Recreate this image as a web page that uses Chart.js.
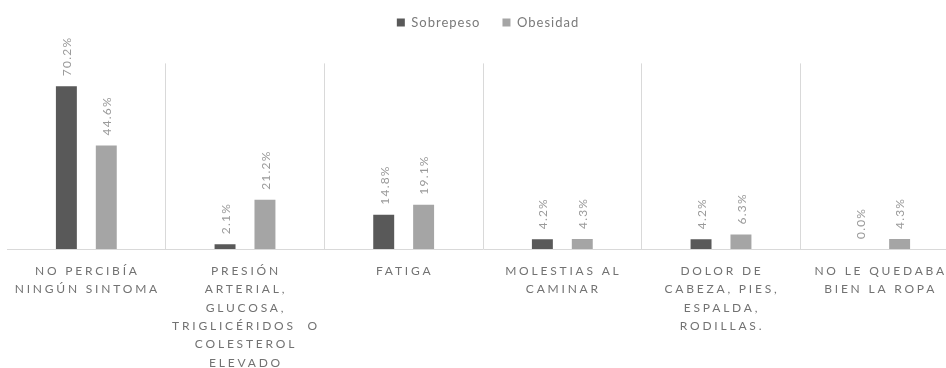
<!DOCTYPE html>
<html>
<head>
<meta charset="utf-8">
<script src="https://cdn.jsdelivr.net/npm/chart.js@4"></script>
<style>
  html, body { margin: 0; padding: 0; background: #fff; overflow: hidden; }
  canvas { display: block; }
</style>
</head>
<body>
<canvas id="symptomChart" width="959" height="368"></canvas>
<script>
const categories = [
  ['NO PERCIBÍA', 'NINGÚN SINTOMA'],
  ['PRESIÓN', 'ARTERIAL,', 'GLUCOSA,', 'TRIGLICÉRIDOS  O', 'COLESTEROL', 'ELEVADO'],
  ['FATIGA'],
  ['MOLESTIAS AL', 'CAMINAR'],
  ['DOLOR DE', 'CABEZA, PIES,', 'ESPALDA,', 'RODILLAS.'],
  ['NO LE QUEDABA', 'BIEN LA ROPA']
];
const sobrepeso = [70.2, 2.1, 14.8, 4.2, 4.2, 0.0];
const obesidad = [44.6, 21.2, 19.1, 4.3, 6.3, 4.3];

Chart.defaults.font.family = 'Lato';

// run a drawing method with canvas letter spacing (and an optional shift)
function withSpacing(target, method, spacing, dx) {
  const original = target[method];
  target[method] = function () {
    const ctx = this.ctx;
    ctx.save();
    ctx.letterSpacing = spacing;
    if (dx) ctx.translate(dx, 0);
    const result = original.apply(this, arguments);
    ctx.restore();
    return result;
  };
}

const letterSpacing = {
  id: 'letterSpacing',
  afterInit(chart) {
    withSpacing(chart.legend, 'fit', '1px');
    withSpacing(chart.legend, 'draw', '1px', 5);
  },
  beforeDraw(chart) {
    const x = chart.scales.x;
    if (!x._spaced) {
      withSpacing(x, 'drawLabels', '2.8px', 1);
      x._spaced = true;
    }
  }
};

// percentage labels standing vertically above each bar
const barValueLabels = {
  id: 'barValueLabels',
  afterDatasetsDraw(chart) {
    const ctx = chart.ctx;
    ctx.save();
    ctx.font = '12px Lato';
    ctx.fillStyle = '#9a9a9a';
    ctx.letterSpacing = '1.2px';
    ctx.textAlign = 'left';
    ctx.textBaseline = 'middle';
    chart.data.datasets.forEach((ds, i) => {
      chart.getDatasetMeta(i).data.forEach((bar, j) => {
        ctx.save();
        ctx.translate(bar.x + 1, bar.y - 10);
        ctx.rotate(-Math.PI / 2);
        ctx.fillText(ds.data[j].toFixed(1) + '%', 0, 0);
        ctx.restore();
      });
    });
    ctx.restore();
  }
};

new Chart(document.getElementById('symptomChart'), {
  type: 'bar',
  data: {
    labels: categories,
    datasets: [
      { label: 'Sobrepeso', data: sobrepeso, backgroundColor: '#595959',
        categoryPercentage: 0.503, barPercentage: 0.525 },
      { label: 'Obesidad', data: obesidad, backgroundColor: '#a5a5a5',
        categoryPercentage: 0.503, barPercentage: 0.525 }
    ]
  },
  options: {
    responsive: false,
    animation: false,
    layout: { padding: { top: -6, left: 7, right: 0, bottom: 0 } },
    scales: {
      x: {
        grid: {
          color: c => (c.index > 0 ? '#d9d9d9' : 'rgba(0,0,0,0)'),
          drawTicks: false
        },
        border: { color: '#d9d9d9' },
        ticks: {
          color: '#727272',
          font: { size: 12, lineHeight: 1.53 },
          padding: 13,
          maxRotation: 0,
          autoSkip: false
        },
        afterFit: s => { s.height = 119; }
      },
      y: { display: false, min: 0, max: 80 }
    },
    plugins: {
      legend: {
        labels: { boxWidth: 8, boxHeight: 8, padding: 22, color: '#7a7a7a', font: { size: 13 } }
      },
      title: {
        display: true, text: '', weight: 500,
        padding: { top: 10, bottom: 0 }, font: { size: 12, lineHeight: 1.2 }
      },
      tooltip: { enabled: false }
    }
  },
  plugins: [letterSpacing, barValueLabels]
});
</script>
</body>
</html>
